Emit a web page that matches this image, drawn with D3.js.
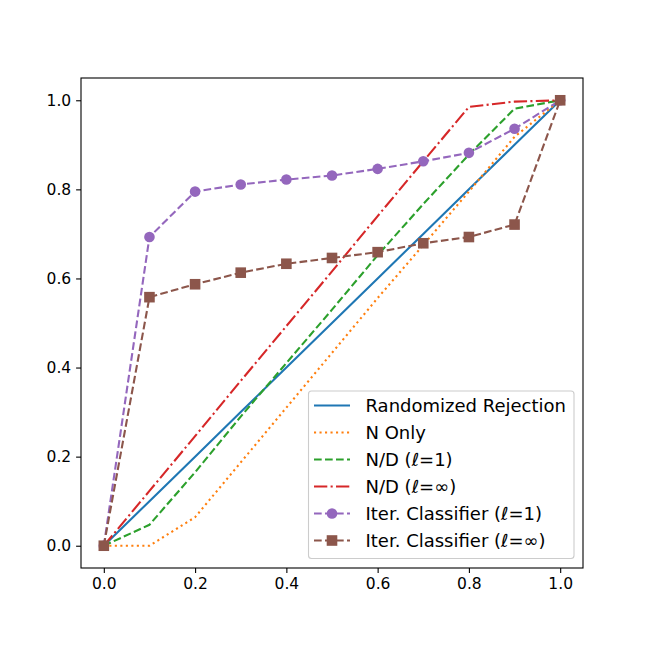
<!DOCTYPE html>
<html>
<head>
    <title>Rejection curves</title>
    <script src="https://cdnjs.cloudflare.com/ajax/libs/d3/7.8.5/d3.min.js"></script>
    <style>
        body { margin: 0; background: #fff; }
        text { font-family: "DejaVu Sans", sans-serif; }
    </style>
</head>
<body>
    <div id="chart"></div>
    <script>
        // data
        let xs = [0, 0.1, 0.2, 0.3, 0.4, 0.5, 0.6, 0.7, 0.8, 0.9, 1.0]
        let randomizedRejection = [0, 0.1, 0.2, 0.3, 0.4, 0.5, 0.6, 0.7, 0.8, 0.9, 1.0]
        let nOnly = [0, 0.0, 0.064, 0.187, 0.31, 0.433, 0.556, 0.675, 0.795, 0.918, 1.0]
        let ndL1 = [0, 0.047, 0.165, 0.29, 0.41, 0.53, 0.652, 0.767, 0.878, 0.981, 1.0]
        let ndLinf = [0, 0.123, 0.246, 0.37, 0.493, 0.616, 0.74, 0.863, 0.985, 0.997, 1.0]
        let iterL1 = [0, 0.693, 0.795, 0.811, 0.822, 0.831, 0.846, 0.863, 0.882, 0.936, 1.0]
        let iterLinf = [0, 0.558, 0.587, 0.613, 0.633, 0.646, 0.659, 0.679, 0.693, 0.721, 1.0]
        let seriesNames = ["Randomized Rejection", "N Only", "N/D (\u2113=1)", "N/D (\u2113=\u221e)",
            "Iter. Classifier (\u2113=1)", "Iter. Classifier (\u2113=\u221e)"]
        let tickVals = [0, 0.2, 0.4, 0.6, 0.8, 1.0]

        const W = 648, H = 648
        const box = { left: 81, right: 583, top: 78, bottom: 568 }

        let series = [
            { name: seriesNames[0], ys: randomizedRejection, color: "#1f77b4", dash: null, marker: null },
            { name: seriesNames[1], ys: nOnly, color: "#ff7f0e", dash: "2.1,3.4", marker: null },
            { name: seriesNames[2], ys: ndL1, color: "#2ca02c", dash: "7.7,3.3", marker: null },
            { name: seriesNames[3], ys: ndLinf, color: "#d62728", dash: "13.3,3.3,2.1,3.3", marker: null },
            { name: seriesNames[4], ys: iterL1, color: "#9467bd", dash: "7.7,3.3", marker: "circle" },
            { name: seriesNames[5], ys: iterLinf, color: "#8c564b", dash: "7.7,3.3", marker: "square" }
        ]

        let svg = d3.select("#chart").append("svg").attr("width", W).attr("height", H)
        svg.append("rect").attr("width", W).attr("height", H).attr("fill", "#fff")

        let x = d3.scaleLinear().domain([-0.05, 1.05]).range([box.left, box.right])
        let y = d3.scaleLinear().domain([-0.05, 1.05]).range([box.bottom, box.top])

        let line = d3.line().x((d, i) => x(xs[i])).y(d => y(d))

        function drawMarker(sel, kind, cx, cy, color) {
            if (kind === "circle") {
                sel.append("circle").attr("cx", cx).attr("cy", cy).attr("r", 5.3).attr("fill", color)
            } else if (kind === "square") {
                sel.append("rect").attr("x", cx - 5.3).attr("y", cy - 5.3)
                    .attr("width", 10.6).attr("height", 10.6).attr("fill", color)
            }
        }

        let plot = svg.append("g")
        series.forEach(function (s) {
            plot.append("path").datum(s.ys).attr("d", line)
                .attr("fill", "none").attr("stroke", s.color).attr("stroke-width", 2.1)
                .attr("stroke-dasharray", s.dash)
            if (s.marker) {
                s.ys.forEach((v, i) => drawMarker(plot, s.marker, x(xs[i]), y(v), s.color))
            }
        })

        // axes
        let xAxis = svg.append("g").attr("transform", `translate(0,${box.bottom})`)
            .call(d3.axisBottom(x).tickValues(tickVals).tickFormat(d3.format(".1f")).tickSize(4.9).tickPadding(4.9))
        let yAxis = svg.append("g").attr("transform", `translate(${box.left},0)`)
            .call(d3.axisLeft(y).tickValues(tickVals).tickFormat(d3.format(".1f")).tickSize(4.9).tickPadding(4.9))
        ;[xAxis, yAxis].forEach(function (a) {
            a.select(".domain").remove()
            a.selectAll("line").attr("stroke", "#000").attr("stroke-width", 1.1)
            a.selectAll("text").style("font-size", "15.5px").attr("fill", "#000")
                .style("font-family", "'DejaVu Sans', sans-serif")
        })

        svg.append("rect").attr("x", box.left).attr("y", box.top)
            .attr("width", box.right - box.left).attr("height", box.bottom - box.top)
            .attr("fill", "none").attr("stroke", "#000").attr("stroke-width", 1.1)

        // legend
        let lg = svg.append("g")
        lg.append("rect").attr("x", 308.5).attr("y", 391).attr("width", 265.5).attr("height", 167.5)
            .attr("rx", 3).attr("fill", "#fff").attr("fill-opacity", 0.8)
            .attr("stroke", "#ccc").attr("stroke-width", 1.1)
        series.forEach(function (s, i) {
            let cy = 405.5 + i * 27
            lg.append("line").attr("x1", 314).attr("x2", 350).attr("y1", cy).attr("y2", cy)
                .attr("stroke", s.color).attr("stroke-width", 2.1).attr("stroke-dasharray", s.dash)
            if (s.marker) drawMarker(lg, s.marker, 332, cy, s.color)
            lg.append("text").attr("x", 365.5).attr("y", cy).attr("dy", "0.36em")
                .style("font-size", "18px").attr("fill", "#000").text(s.name)
        })
    </script>
</body>
</html>
